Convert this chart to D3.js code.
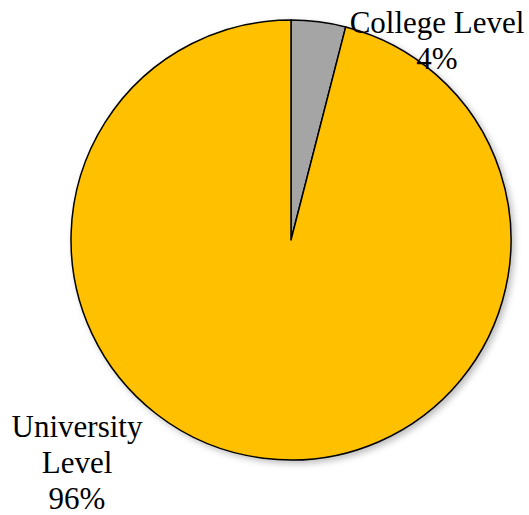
<!DOCTYPE html>
<html>
<head>
<meta charset="utf-8">
<script src="https://cdn.jsdelivr.net/npm/d3@7"></script>
<style>
  body { margin: 0; background: #fff; }
  svg { display: block; }
  .lbl { font-family: 'Liberation Serif', 'DejaVu Serif', serif; font-size: 31px; }
</style>
</head>
<body>
<div class="chart"></div>
<script>
const categories = ['College Level', 'University Level'];
const shares = [4, 96];
const pctLabels = ['4%', '96%'];
const colors = ['#a5a5a5', '#ffc000'];

const width = 529;
const height = 515;
const cx = 291;
const cy = 240;
const radius = 220;

const svg = d3.select('.chart')
  .append('svg')
  .attr('width', width)
  .attr('height', height);

const defs = svg.append('defs');
const shadow = defs.append('filter')
  .attr('id', 'shadow')
  .attr('x', '-10%').attr('y', '-10%')
  .attr('width', '120%').attr('height', '120%');
shadow.append('feDropShadow')
  .attr('dx', 3).attr('dy', 3)
  .attr('stdDeviation', 3)
  .attr('flood-color', '#000')
  .attr('flood-opacity', 0.25);

const data = categories.map((c, i) => ({ name: c, value: shares[i], label: pctLabels[i], color: colors[i] }));

const pie = d3.pie()
  .value(d => d.value)
  .sort(null);

const arc = d3.arc()
  .innerRadius(0)
  .outerRadius(radius);

const g = svg.append('g')
  .attr('transform', `translate(${cx},${cy})`);

g.append('g')
  .attr('filter', 'url(#shadow)')
  .selectAll('path')
  .data(pie(data))
  .enter().append('path')
  .attr('d', arc)
  .attr('fill', d => d.data.color)
  .attr('stroke', '#000')
  .attr('stroke-width', 1.5)
  .attr('stroke-linejoin', 'round');

// label placement (layout only)
const labelPos = [
  { x: 437, y: 33, lines: ['College Level'] },
  { x: 77, y: 437, lines: ['University', 'Level'] },
];
const lineH = 36;

labelPos.forEach((p, i) => {
  const lines = p.lines.concat([data[i].label]);
  const t = svg.append('text')
    .attr('class', 'lbl')
    .attr('text-anchor', 'middle')
    .attr('fill', '#000');
  lines.forEach((ln, j) => {
    t.append('tspan')
      .attr('x', p.x)
      .attr('y', p.y + j * lineH)
      .text(ln);
  });
});
</script>
</body>
</html>
